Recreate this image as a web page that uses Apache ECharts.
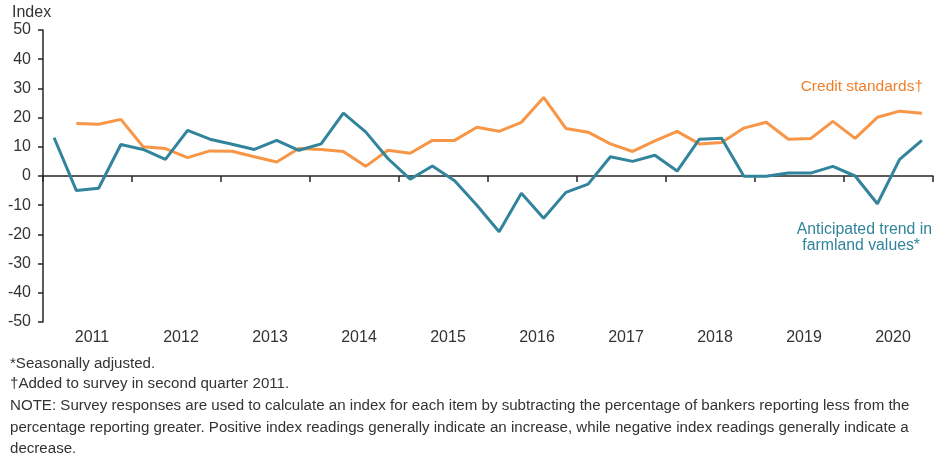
<!DOCTYPE html>
<html>
<head>
<meta charset="utf-8">
<script src="https://cdn.jsdelivr.net/npm/echarts@6/dist/echarts.min.js"></script>
<style>
  html, body { margin: 0; padding: 0; background: #fff; }
  #chart { width: 949px; height: 458px; }
</style>
</head>
<body>
<div id="chart"></div>
<script>
// quarterly, 2011 Q1 .. 2020 Q4
const years = ["2011", "2012", "2013", "2014", "2015", "2016", "2017", "2018", "2019", "2020"];
const quarters = years.flatMap(y => ["Q1", "Q2", "Q3", "Q4"].map(q => y + " " + q));

const farmlandTrend = [
  13.1, -5.0, -4.2, 10.8,
  9.1, 5.7, 15.6, 12.6,
  10.9, 9.1, 12.2, 8.8,
  11.0, 21.5, 15.1, 6.0,
  -1.1, 3.4, -1.6, -10.0,
  -19.1, -5.9, -14.5, -5.6,
  -2.8, 6.6, 5.0, 7.1,
  1.7, 12.6, 12.9, -0.1,
  -0.1, 1.0, 1.0, 3.3,
  0.0, -9.5, 5.7, 12.2
];

// starts in second quarter 2011
const creditStandards = [
  null, 18.0, 17.7, 19.4,
  10.0, 9.4, 6.3, 8.6,
  8.5, 6.6, 4.8, 9.4,
  9.1, 8.4, 3.3, 8.8,
  7.8, 12.2, 12.2, 16.7,
  15.3, 18.4, 26.9, 16.3,
  15.0, 11.0, 8.4, 12.0,
  15.3, 11.0, 11.5, 16.4,
  18.4, 12.6, 12.8, 18.7,
  12.9, 20.1, 22.2, 21.5
];

const footnotes = [
  "*Seasonally adjusted.",
  "\u2020Added to survey in second quarter 2011.",
  "NOTE: Survey responses are used to calculate an index for each item by subtracting the percentage of bankers reporting less from the",
  "percentage reporting greater. Positive index readings generally indicate an increase, while negative index readings generally indicate a",
  "decrease."
];
const footnoteY = [356, 376, 398, 420, 441];

const BLUE = "#31849b";
const ORANGE = "#f79646";
const TEXT = "#333333";
const FONT = "'Liberation Sans', Arial, sans-serif";

const chart = echarts.init(document.getElementById("chart"));

chart.setOption({
  animation: false,
  backgroundColor: "#fff",
  textStyle: { fontFamily: FONT },
  grid: { left: 43, right: 16, top: 30, bottom: 136, containLabel: false },
  xAxis: [
    {
      // data positions only; leave the zero line to the year axis
      type: "category", data: quarters, boundaryGap: true, show: false,
      axisLine: { onZero: false }
    },
    {
      // zero line with year ticks
      type: "category", data: years, boundaryGap: true, position: "bottom",
      axisLine: { onZero: true, lineStyle: { color: "#262626", width: 1.5 } },
      axisTick: { show: true, inside: false, length: 6, lineStyle: { color: "#262626", width: 1.5 } },
      axisLabel: { show: false }
    },
    {
      // year labels at the bottom
      type: "category", data: years, boundaryGap: true, position: "bottom",
      axisLine: { show: false, onZero: false },
      axisTick: { show: false },
      axisLabel: { show: true, color: TEXT, fontSize: 16, fontFamily: FONT, margin: 8, padding: [0, 0, 0, 9] }
    }
  ],
  yAxis: {
    type: "value", min: -50, max: 50, interval: 10,
    axisLine: { show: true, lineStyle: { color: "#262626", width: 1.5 } },
    axisTick: { show: true, inside: false, length: 5, lineStyle: { color: "#262626", width: 1.5 } },
    axisLabel: { color: TEXT, fontSize: 16, fontFamily: FONT, margin: 12 },
    splitLine: { show: false }
  },
  series: [
    {
      name: "Credit standards\u2020", type: "line", data: creditStandards,
      xAxisIndex: 0, showSymbol: false, connectNulls: false,
      lineStyle: { color: ORANGE, width: 3 }, itemStyle: { color: ORANGE }
    },
    {
      name: "Anticipated trend in farmland values*", type: "line", data: farmlandTrend,
      xAxisIndex: 0, showSymbol: false,
      lineStyle: { color: BLUE, width: 3 }, itemStyle: { color: BLUE }
    }
  ],
  graphic: [
    {
      type: "text", left: 12, top: 5,
      style: { text: "Index", fill: TEXT, font: "16px " + FONT }
    },
    {
      type: "text", right: 26, top: 79,
      style: { text: "Credit standards\u2020", fill: "#ef7f2a", font: "15.5px " + FONT }
    },
    {
      type: "text", right: 17, top: 222,
      style: { text: "Anticipated trend in", fill: BLUE, font: "15.8px " + FONT }
    },
    {
      type: "text", right: 29, top: 238,
      style: { text: "farmland values*", fill: BLUE, font: "15.8px " + FONT }
    }
  ].concat(footnotes.map((t, i) => ({
    type: "text", left: 10, top: footnoteY[i],
    style: { text: t, fill: TEXT, font: "15.1px " + FONT }
  })))
});
</script>
</body>
</html>
